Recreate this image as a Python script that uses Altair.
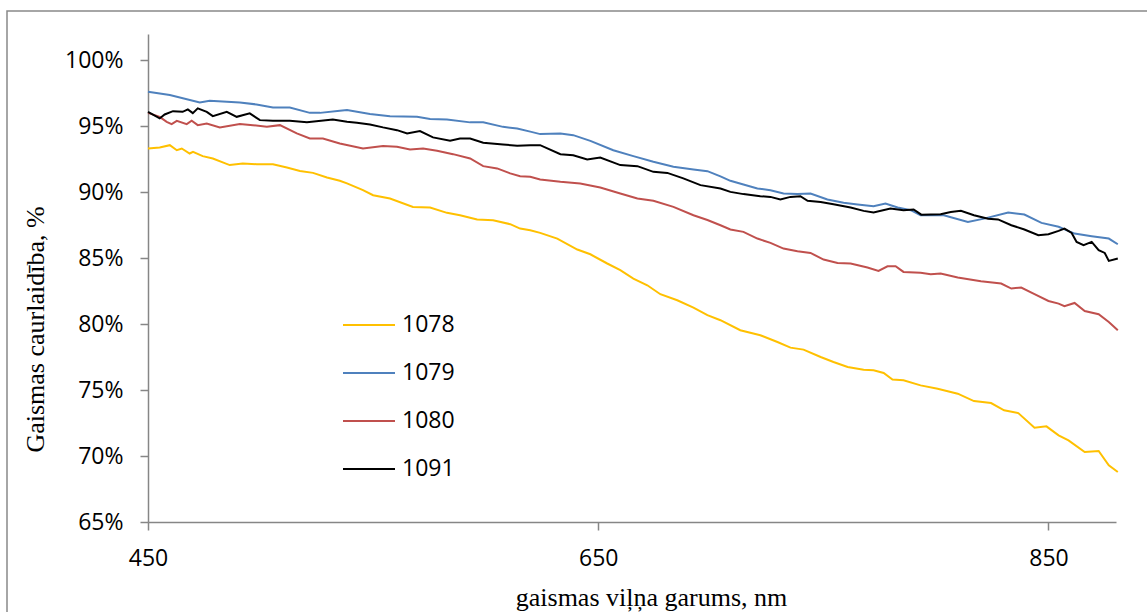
import altair as alt
import pandas as pd

# Transmission spectra of four glass samples, wavelength in nm, transmission in %
series_names = ["1078", "1079", "1080", "1091"]
series_colors = ["#FFC000", "#4F81BD", "#C0504D", "#000000"]

wl_1078 = [450.0, 455.2, 459.7, 462.8, 465.0, 468.5, 470.0, 474.3, 478.8, 486.3, 492.1, 498.3,
           505.5, 511.7, 517.5, 523.3, 529.5, 535.2, 538.4, 545.5, 550.0, 557.5, 567.7, 575.3,
           582.8, 588.6, 596.2, 603.3, 610.9, 615.3, 619.8, 624.2, 631.8, 640.7, 646.5, 654.0,
           659.8, 665.6, 671.8, 677.6, 685.1, 692.3, 698.5, 704.3, 713.1, 722.0, 729.6, 735.4,
           741.2, 748.8, 754.5, 760.8, 767.9, 772.3, 776.8, 780.7, 785.6, 793.2, 800.8, 809.7,
           816.9, 824.5, 830.3, 836.6, 843.8, 849.1, 854.5, 858.9, 866.1, 872.3, 876.8, 880.8]
t_1078 = [93.32, 93.40, 93.57, 93.19, 93.32, 92.94, 93.07, 92.74, 92.56, 92.06, 92.18, 92.13,
          92.13, 91.88, 91.62, 91.47, 91.12, 90.87, 90.67, 90.16, 89.78, 89.53, 88.89, 88.85,
          88.44, 88.26, 87.94, 87.88, 87.58, 87.25, 87.12, 86.92, 86.49, 85.66, 85.30, 84.60,
          84.09, 83.46, 82.95, 82.27, 81.81, 81.26, 80.68, 80.30, 79.54, 79.16, 78.65, 78.22,
          78.07, 77.51, 77.13, 76.75, 76.55, 76.50, 76.30, 75.80, 75.74, 75.36, 75.11, 74.73,
          74.17, 74.02, 73.47, 73.26, 72.15, 72.25, 71.57, 71.19, 70.30, 70.38, 69.30, 68.79]

wl_1079 = [450.0, 459.7, 473.0, 477.4, 490.8, 498.2, 505.5, 513.0, 521.9, 526.4, 535.2, 538.4,
           548.6, 557.5, 569.5, 575.3, 582.8, 593.1, 598.9, 607.7, 614.0, 619.8, 624.2, 633.2,
           638.9, 646.5, 656.7, 665.6, 674.5, 683.4, 692.3, 698.5, 704.3, 708.7, 714.5, 720.7,
           726.5, 732.3, 738.5, 744.3, 751.8, 759.0, 765.2, 772.3, 777.6, 783.0, 788.8, 793.2,
           803.5, 814.2, 821.4, 832.1, 839.3, 846.9, 854.5, 861.6, 869.2, 876.8, 880.8]
t_1079 = [97.62, 97.37, 96.81, 96.93, 96.81, 96.66, 96.43, 96.43, 96.02, 96.02, 96.18, 96.23,
          95.93, 95.77, 95.72, 95.55, 95.52, 95.30, 95.30, 94.96, 94.84, 94.60, 94.41, 94.46,
          94.33, 93.90, 93.19, 92.74, 92.31, 91.93, 91.73, 91.60, 91.20, 90.87, 90.59, 90.29,
          90.16, 89.91, 89.86, 89.91, 89.45, 89.20, 89.07, 88.94, 89.15, 88.85, 88.64, 88.26,
          88.26, 87.75, 88.00, 88.47, 88.31, 87.68, 87.38, 86.87, 86.67, 86.49, 86.06]

wl_1080 = [450.0, 455.2, 458.3, 460.5, 462.8, 467.2, 469.4, 472.1, 476.1, 481.9, 490.8, 496.6,
           502.8, 508.6, 516.1, 521.9, 527.7, 535.2, 545.5, 554.4, 560.6, 566.4, 572.2, 578.4,
           585.5, 593.1, 598.9, 605.1, 610.9, 615.3, 619.8, 624.2, 633.2, 642.0, 650.9, 659.8,
           667.4, 674.5, 683.4, 692.3, 698.5, 704.3, 708.7, 714.5, 720.7, 726.5, 732.3, 738.5,
           744.3, 750.1, 756.3, 762.1, 769.6, 774.5, 778.5, 782.1, 785.6, 793.2, 797.7, 802.1,
           809.7, 820.0, 829.0, 833.5, 837.9, 843.8, 850.0, 854.5, 857.1, 861.6, 866.1, 872.3,
           876.8, 880.8]
t_1080 = [96.02, 95.72, 95.34, 95.17, 95.42, 95.17, 95.42, 95.09, 95.22, 94.92, 95.17, 95.09,
          94.96, 95.09, 94.46, 94.08, 94.08, 93.70, 93.32, 93.50, 93.45, 93.25, 93.32, 93.14,
          92.89, 92.56, 91.98, 91.81, 91.43, 91.22, 91.17, 90.97, 90.79, 90.67, 90.36, 89.91,
          89.53, 89.35, 88.89, 88.26, 87.90, 87.50, 87.18, 87.00, 86.49, 86.16, 85.73, 85.53,
          85.40, 84.90, 84.64, 84.60, 84.29, 84.04, 84.39, 84.39, 83.96, 83.89, 83.79, 83.84,
          83.54, 83.25, 83.08, 82.70, 82.78, 82.27, 81.76, 81.56, 81.36, 81.61, 81.00, 80.75,
          80.17, 79.54]

wl_1091 = [450.0, 455.2, 457.4, 461.1, 465.4, 467.7, 469.9, 472.1, 476.1, 478.8, 485.0, 489.4,
           495.2, 499.7, 505.5, 513.0, 520.6, 532.1, 538.4, 542.8, 548.6, 554.4, 560.6, 565.1,
           570.8, 576.6, 584.2, 588.6, 593.1, 598.9, 607.7, 614.0, 619.8, 624.2, 633.2, 638.9,
           645.1, 650.9, 659.8, 667.4, 674.5, 680.7, 687.8, 695.4, 704.3, 708.7, 714.5, 722.0,
           726.5, 730.9, 735.4, 739.8, 743.0, 748.8, 754.5, 762.1, 767.9, 772.3, 779.8, 785.6,
           790.1, 793.5, 802.1, 806.6, 811.1, 816.9, 823.2, 827.6, 833.5, 839.3, 845.5, 850.0,
           854.5, 857.1, 860.3, 862.5, 865.6, 869.2, 872.3, 875.0, 876.8, 880.8]
t_1091 = [96.10, 95.60, 95.90, 96.15, 96.10, 96.28, 96.00, 96.36, 96.10, 95.77, 96.10, 95.72,
          95.98, 95.47, 95.42, 95.42, 95.30, 95.52, 95.34, 95.27, 95.14, 94.92, 94.71, 94.46,
          94.64, 94.16, 93.90, 94.08, 94.08, 93.75, 93.63, 93.52, 93.57, 93.57, 92.89, 92.81,
          92.49, 92.64, 92.06, 91.98, 91.55, 91.47, 91.05, 90.54, 90.29, 90.03, 89.86, 89.70,
          89.65, 89.45, 89.65, 89.70, 89.35, 89.27, 89.10, 88.85, 88.59, 88.47, 88.77, 88.64,
          88.70, 88.30, 88.34, 88.51, 88.59, 88.26, 88.00, 87.94, 87.50, 87.18, 86.74, 86.82,
          87.07, 87.25, 86.92, 86.24, 85.99, 86.24, 85.61, 85.40, 84.80, 84.98]

x_ticks = [450, 650, 850]
y_ticks = [65, 70, 75, 80, 85, 90, 95, 100]
x_range = [450, 880]
y_range = [65, 102]

frames = []
for name, wl, tr in [("1078", wl_1078, t_1078), ("1079", wl_1079, t_1079),
                     ("1080", wl_1080, t_1080), ("1091", wl_1091, t_1091)]:
    frames.append(pd.DataFrame({"wl": wl, "T": tr, "sample": name}))
data = pd.concat(frames, ignore_index=True)

AXIS_GREY = "#868686"
LABEL_FONT = "Open Sans"
TITLE_FONT = "Liberation Serif"

PLOT_W = 968
PLOT_H = 488
PAD_L, PAD_T = 148, 34

lines = alt.Chart(data).mark_line(strokeWidth=2).encode(
    x=alt.X("wl:Q",
            scale=alt.Scale(domain=x_range, nice=False, zero=False),
            axis=alt.Axis(values=x_ticks, title="gaismas viļņa garums, nm",
                          grid=False, tickSize=8, labelPadding=35,
                          labelBaseline="alphabetic", labelFlush=False,
                          titleX=503, titleY=83, titleBaseline="alphabetic",
                          titleAnchor=None)),
    y=alt.Y("T:Q",
            scale=alt.Scale(domain=y_range, nice=False, zero=False),
            axis=alt.Axis(values=y_ticks, title="Gaismas caurlaidība, %",
                          labelExpr="datum.value + '%'", labelFlush=False,
                          grid=False, tickSize=8, labelPadding=17,
                          titleX=-105, titleY=295, titleAngle=-90,
                          titleBaseline="alphabetic")),
    color=alt.Color("sample:N",
                    scale=alt.Scale(domain=series_names, range=series_colors),
                    legend=alt.Legend(title=None, orient="none", legendX=194,
                                      legendY=264, symbolType="stroke",
                                      symbolSize=2704, symbolStrokeWidth=2,
                                      labelOffset=6, rowPadding=9, padding=0,
                                      labelFont=LABEL_FONT, labelFontSize=23,
                                      labelColor="#000000")),
    detail="sample:N",
)

# outer chart frame
frame = alt.Chart(pd.DataFrame({"k": [0]})).mark_rect(
    fill=None, stroke="#898989", strokeWidth=1.5
).encode(
    x=alt.value(7 - PAD_L), x2=alt.value(1147 - PAD_L + 30),
    y=alt.value(11 - PAD_T), y2=alt.value(612 - PAD_T + 30),
)

chart = alt.layer(frame, lines).properties(
    width=PLOT_W, height=PLOT_H,
    autosize=alt.AutoSizeParams(type="none"),
    padding={"left": PAD_L, "top": PAD_T, "right": 1147 - PAD_L - PLOT_W,
             "bottom": 612 - PAD_T - PLOT_H},
    background="#FFFFFF",
).configure_view(stroke=None).configure_axis(
    domainColor=AXIS_GREY, domainWidth=1.5, tickColor=AXIS_GREY, tickWidth=1.5,
    labelFont=LABEL_FONT, labelFontSize=23, labelColor="#000000",
    titleFont=TITLE_FONT, titleFontSize=26, titleFontWeight="normal",
    titleColor="#000000",
)

chart.save("out.html", embed_options={"renderer": "svg", "actions": False})
